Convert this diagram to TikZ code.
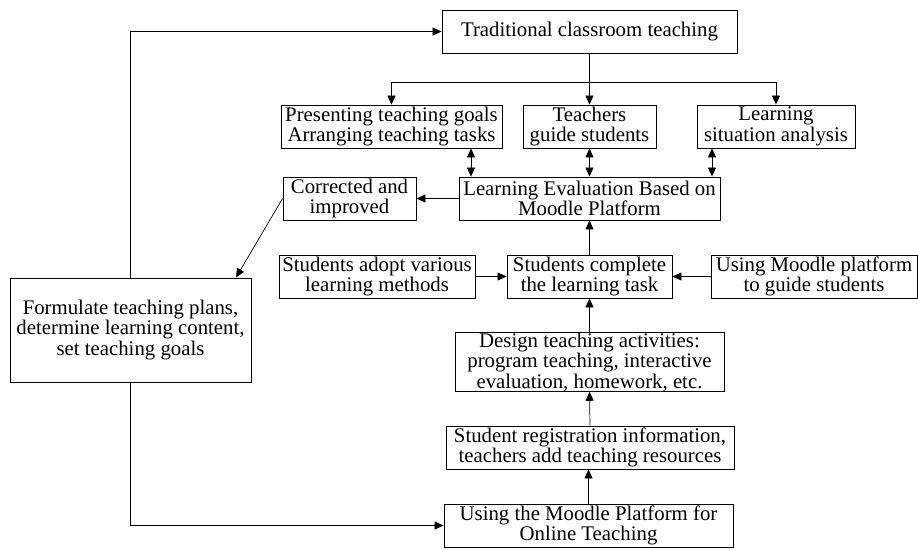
\documentclass[tikz,border=0pt]{standalone}
\usepackage{fontspec}
\setmainfont{Liberation Serif}
\usetikzlibrary{arrows.meta,calc}
\begin{document}
\begin{tikzpicture}[x=1pt,y=-1pt,
  box/.style={draw,line width=0.9pt,rectangle,inner sep=0pt,align=center,
    font=\fontsize{20.8}{20.5}\selectfont,minimum height=43pt},
  arr/.style={line width=0.7pt,-{Triangle[length=9pt,width=8pt]}},
  dbl/.style={line width=0.7pt,{Triangle[length=9pt,width=8pt]}-{Triangle[length=9pt,width=8pt]}}]
\useasboundingbox (0,0) rectangle (918,549);
\node[box,minimum width=295pt] (trad) at (589.5,31.5) {Traditional classroom teaching};
\node[box,minimum width=221pt] (pres) at (391.5,126.5) {Presenting teaching goals\\Arranging teaching tasks};
\node[box,minimum width=133pt] (teach) at (589.5,126.5) {Teachers\\guide students};
\node[box,minimum width=158pt] (lsa) at (776,126.5) {Learning\\situation analysis};
\node[box,minimum width=261pt] (le) at (589.5,198.5) {Learning Evaluation Based on\\Moodle Platform};
\node[box,minimum width=133pt] (corr) at (349.5,198.5) {Corrected and\\improved};
\node[box,minimum width=196pt] (adopt) at (377,276.5) {Students adopt various\\learning methods};
\node[box,minimum width=165pt] (comp) at (589.5,276.5) {Students complete\\the learning task};
\node[box,minimum width=206pt] (guide) at (814,276.5) {Using Moodle platform\\to guide students};
\node[box,minimum width=269pt,minimum height=58pt] (design) at (589.5,362) {Design teaching activities:\\program teaching, interactive\\evaluation, homework, etc.};
\node[box,minimum width=288pt] (reg) at (590,447.5) {Student registration information,\\teachers add teaching resources};
\node[box,minimum width=289pt] (online) at (588.5,525.5) {Using the Moodle Platform for\\Online Teaching};
\node[box,minimum width=241pt,minimum height=104pt] (form) at (130.5,330) {Formulate teaching plans,\\determine learning content,\\set teaching goals};
% branch from traditional
\coordinate (bm) at ($(trad.south)+(0,29)$);
\draw[line width=0.7pt] (trad.south) -- (bm);
\draw[arr] (bm) -- (teach.north);
\draw[arr] (bm) -| (pres.north);
\draw[arr] (bm) -| (lsa.north);
% double arrows
\coordinate (d1) at ([xshift=79.5pt]pres.south);
\coordinate (d3) at ([xshift=-64pt]lsa.south);
\draw[dbl] (d1) -- (d1 |- le.north);
\draw[dbl] (teach.south) -- (teach.south |- le.north);
\draw[dbl] (d3) -- (d3 |- le.north);
% evaluation to corrected
\draw[arr] (le.west) -- (corr.east);
\draw[arr] (corr.west) -- ([xshift=105.5pt]form.north);
% loops from formulate
\draw[arr] (form.north) |- (trad.west);
\draw[arr] (form.south) |- (online.west);
% middle column
\draw[arr] (adopt.east) -- (comp.west);
\draw[arr] (guide.west) -- (comp.east);
\draw[arr] (comp.north) -- (le.south);
\draw[arr] (design.north) -- (comp.south);
\draw[arr] (reg.north) -- (design.south);
\draw[arr] (online.north) -- (online.north |- reg.south);
\end{tikzpicture}
\end{document}
